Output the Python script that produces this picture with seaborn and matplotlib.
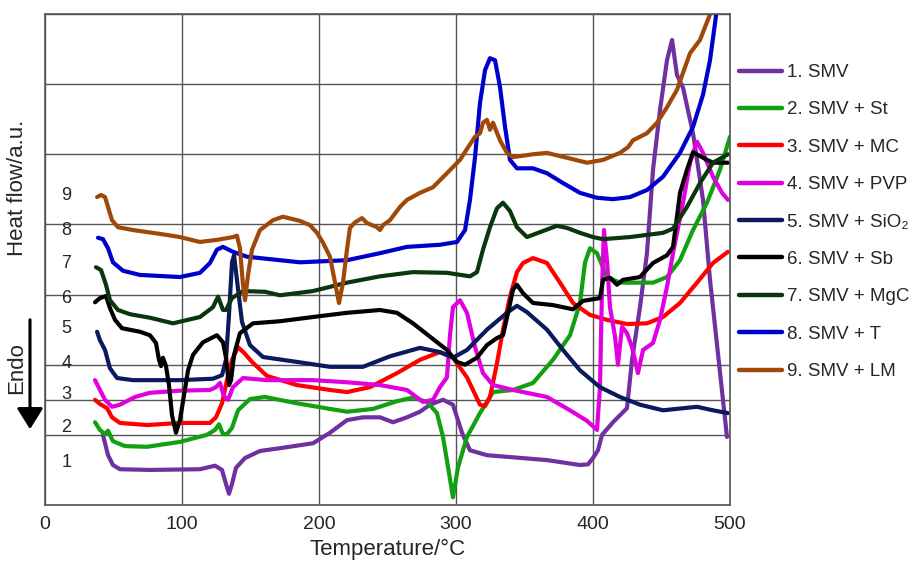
import numpy as np
import pandas as pd
import matplotlib
matplotlib.use("Agg")
import matplotlib.pyplot as plt
from matplotlib.lines import Line2D
import seaborn as sns

# ---- DSC curves: temperature (°C) and heat flow (a.u., one grid step = 1) ----
t_smv = [42.3, 46.0, 49.6, 54.7, 76.6, 113.1, 124.1, 129.2, 132.1, 134.3, 136.5, 139.4, 146.0,
         156.9, 171.5, 195.6, 208.0, 220.4, 232.1, 244.5, 254.0, 264.2, 273.7, 281.0, 290.5,
         297.8, 304.4, 310.2, 322.6, 341.6, 366.4, 390.5, 396.4, 400.0, 403.6, 406.6, 414.6,
         424.8, 428.5, 434.3, 439.4, 443.8, 448.9, 454.0, 457.7, 461.3, 465.7, 473.0, 480.3,
         485.4, 497.8]
h_smv = [1.00, 0.71, 0.57, 0.51, 0.50, 0.51, 0.56, 0.50, 0.30, 0.16, 0.30, 0.53, 0.67,
         0.77, 0.81, 0.88, 1.03, 1.21, 1.25, 1.25, 1.18, 1.25, 1.33, 1.43, 1.50,
         1.43, 1.03, 0.78, 0.71, 0.68, 0.64, 0.57, 0.58, 0.67, 0.78, 1.00, 1.18,
         1.38, 2.07, 2.82, 3.59, 4.78, 5.63, 6.34, 6.63, 6.13, 5.95, 5.30, 4.35,
         3.21, 0.97]

t_st = [36.5, 40.1, 43.8, 46.0, 49.6, 58.4, 74.5, 98.5, 118.2, 124.1, 127.0, 129.9, 132.8,
        136.5, 140.9, 149.6, 160.6, 183.9, 208.0, 220.4, 239.4, 256.9, 268.6, 278.8, 286.1,
        290.5, 294.2, 297.8, 301.5, 308.0, 317.5, 327.0, 341.6, 356.2, 370.8, 383.2, 390.5,
        394.2, 397.8, 402.9, 410.2, 419.7, 443.8, 454.0, 463.5, 473.0, 483.2, 492.7, 500.0]
h_st = [1.18, 1.07, 1.01, 1.06, 0.91, 0.84, 0.83, 0.90, 1.00, 1.07, 1.15, 1.01, 1.01,
        1.10, 1.35, 1.51, 1.54, 1.45, 1.37, 1.33, 1.37, 1.48, 1.53, 1.47, 1.31,
        0.97, 0.54, 0.11, 0.54, 0.97, 1.31, 1.61, 1.64, 1.74, 2.07, 2.42, 2.88,
        3.46, 3.66, 3.59, 3.25, 3.17, 3.17, 3.25, 3.49, 3.92, 4.31, 4.78, 5.25]

t_mc = [36.5, 40.1, 45.3, 48.9, 54.7, 74.5, 98.5, 120.4, 124.8, 129.2, 132.8, 136.5, 140.9,
        145.3, 151.1, 162.0, 183.9, 208.0, 220.4, 237.2, 256.9, 273.7, 288.3, 297.8, 308.0,
        317.5, 321.2, 324.8, 329.9, 334.3, 339.4, 344.5, 348.9, 356.2, 366.4, 375.9, 385.4,
        397.8, 410.2, 424.8, 439.4, 451.1, 463.5, 475.9, 487.6, 498.5]
h_mc = [1.50, 1.44, 1.38, 1.25, 1.17, 1.14, 1.17, 1.17, 1.25, 1.45, 1.78, 2.07, 2.25,
        2.17, 2.04, 1.84, 1.71, 1.64, 1.61, 1.68, 1.88, 2.07, 2.18, 2.10, 1.82,
        1.43, 1.41, 1.54, 2.02, 2.50, 2.97, 3.32, 3.45, 3.52, 3.45, 3.17, 2.88,
        2.71, 2.64, 2.58, 2.59, 2.68, 2.88, 3.17, 3.45, 3.61]

t_pvp = [36.5, 40.1, 43.8, 48.9, 54.7, 65.7, 76.6, 98.5, 120.4, 124.8, 127.7, 130.7, 133.6,
         137.2, 144.5, 162.0, 195.6, 220.4, 244.5, 264.2, 275.9, 283.2, 288.3, 293.4, 295.6,
         297.8, 302.9, 308.0, 313.9, 319.7, 327.0, 341.6, 366.4, 383.2, 395.6, 402.9, 405.1,
         406.6, 408.0, 410.2, 412.4, 416.1, 418.2, 421.2, 424.8, 428.5, 432.8, 436.5, 443.8,
         448.9, 454.0, 458.4, 465.7, 470.8, 475.9, 480.3, 487.6, 494.2, 498.5]
h_pvp = [1.78, 1.64, 1.50, 1.40, 1.43, 1.54, 1.60, 1.63, 1.64, 1.68, 1.74, 1.55, 1.50,
         1.68, 1.81, 1.78, 1.78, 1.75, 1.71, 1.64, 1.47, 1.50, 1.68, 1.82, 2.42,
         2.82, 2.92, 2.74, 2.25, 1.88, 1.71, 1.64, 1.54, 1.35, 1.20, 1.07, 1.68,
         3.11, 3.92, 3.49, 2.82, 2.40, 2.00, 2.54, 2.45, 2.25, 1.88, 2.21, 2.31,
         2.64, 3.11, 3.59, 4.31, 4.88, 5.18, 5.02, 4.68, 4.45, 4.35]

t_sio2 = [38.0, 40.1, 43.8, 47.4, 52.6, 64.2, 98.5, 122.6, 129.2, 132.1, 134.3, 136.5, 138.0,
          140.1, 143.8, 149.6, 159.1, 183.9, 208.0, 232.1, 251.8, 273.7, 288.3, 297.8, 308.0,
          322.6, 337.2, 344.5, 351.8, 366.4, 378.1, 390.5, 405.1, 419.7, 434.3, 451.1, 475.9,
          487.6, 498.5]
h_sio2 = [2.47, 2.35, 2.21, 1.95, 1.81, 1.78, 1.78, 1.80, 1.85, 2.07, 2.71, 3.46, 3.56,
          3.21, 2.61, 2.28, 2.11, 2.04, 1.97, 1.97, 2.12, 2.24, 2.18, 2.10, 2.21,
          2.50, 2.74, 2.84, 2.75, 2.50, 2.21, 1.92, 1.68, 1.54, 1.43, 1.35, 1.40,
          1.35, 1.31]

t_sb = [36.5, 40.1, 44.5, 47.4, 51.1, 56.2, 69.3, 76.6, 81.0, 83.2, 84.7, 86.1, 88.3, 90.5,
        92.7, 95.6, 98.5, 101.5, 104.4, 108.0, 115.3, 125.5, 129.9, 132.1, 134.3, 135.8,
        138.0, 142.3, 151.8, 171.5, 195.6, 220.4, 244.5, 256.9, 268.6, 281.0, 293.4, 300.7,
        306.6, 315.3, 322.6, 329.9, 334.3, 338.0, 341.6, 344.5, 348.9, 356.2, 370.8, 385.4,
        392.7, 405.1, 407.3, 412.4, 417.5, 421.9, 434.3, 443.8, 454.0, 458.4, 461.3, 463.5,
        468.6, 473.0, 483.2, 487.6, 498.5]
h_sb = [2.89, 2.95, 2.98, 2.81, 2.64, 2.52, 2.47, 2.42, 2.31, 2.07, 1.98, 2.10, 1.98, 1.71,
        1.28, 1.03, 1.21, 1.57, 1.92, 2.14, 2.32, 2.42, 2.32, 2.10, 1.71, 1.78,
        2.14, 2.45, 2.59, 2.62, 2.68, 2.74, 2.78, 2.74, 2.59, 2.40, 2.21, 2.04,
        2.00, 2.10, 2.28, 2.38, 2.42, 2.74, 3.07, 3.14, 3.02, 2.88, 2.85, 2.79,
        2.91, 2.95, 3.21, 3.24, 3.14, 3.21, 3.25, 3.45, 3.56, 3.68, 4.11, 4.45,
        4.78, 5.03, 4.92, 4.88, 4.88]

t_mgc = [37.2, 40.9, 44.5, 47.4, 53.3, 62.0, 76.6, 93.4, 113.1, 122.6, 126.3, 129.9, 132.1,
         136.5, 144.5, 160.6, 171.5, 195.6, 220.4, 244.5, 268.6, 293.4, 310.2, 315.3, 319.7,
         324.8, 329.9, 334.3, 339.4, 344.5, 351.8, 361.3, 373.7, 381.0, 390.5, 400.0, 407.3,
         427.0, 451.1, 458.4, 468.6, 478.1, 487.6, 498.5]
h_mgc = [3.39, 3.35, 3.14, 2.92, 2.78, 2.72, 2.67, 2.59, 2.68, 2.82, 2.97, 2.78, 2.78,
         2.95, 3.05, 3.04, 2.99, 3.05, 3.17, 3.26, 3.32, 3.31, 3.26, 3.32, 3.64,
         3.96, 4.23, 4.31, 4.19, 3.96, 3.82, 3.89, 3.98, 3.95, 3.88, 3.82, 3.79,
         3.82, 3.88, 3.94, 4.25, 4.59, 4.88, 5.00]

t_t = [38.7, 42.3, 46.0, 49.6, 56.9, 69.3, 98.5, 113.1, 120.4, 125.5, 129.9, 137.2, 147.4,
       156.9, 186.1, 220.4, 244.5, 264.2, 288.3, 300.7, 306.6, 310.2, 313.9, 317.5, 321.2,
       324.8, 328.5, 332.1, 335.8, 339.4, 344.5, 356.2, 366.4, 378.1, 390.5, 402.9, 414.6,
       427.0, 439.4, 451.1, 463.5, 473.0, 480.3, 485.4, 491.0]
h_t = [3.81, 3.79, 3.66, 3.46, 3.34, 3.28, 3.25, 3.31, 3.45, 3.64, 3.68, 3.61, 3.54,
       3.52, 3.46, 3.49, 3.59, 3.68, 3.71, 3.75, 3.92, 4.35, 4.96, 5.73, 6.20,
       6.37, 6.34, 5.96, 5.39, 4.92, 4.80, 4.80, 4.73, 4.59, 4.45, 4.38, 4.36,
       4.39, 4.49, 4.68, 5.02, 5.39, 5.85, 6.34, 7.15]

t_lm = [38.0, 40.9, 43.8, 46.0, 48.9, 53.3, 64.2, 89.1, 98.5, 113.1, 125.5, 137.2, 140.1,
        142.3, 144.5, 146.0, 148.2, 151.1, 156.9, 166.4, 173.7, 186.1, 193.4, 198.5, 202.9,
        208.0, 211.7, 214.6, 217.5, 220.4, 222.6, 226.3, 231.4, 235.0, 242.3, 244.5, 246.7,
        251.8, 259.1, 264.2, 273.7, 283.2, 293.4, 302.9, 308.8, 313.9, 317.5, 319.7, 322.6,
        324.8, 327.0, 332.1, 337.2, 341.6, 356.2, 366.4, 381.0, 395.6, 407.3, 419.7, 425.5,
        429.2, 439.4, 446.7, 454.0, 461.3, 470.8, 478.1, 488.5]
h_lm = [4.39, 4.42, 4.39, 4.25, 4.06, 3.96, 3.92, 3.85, 3.82, 3.75, 3.78, 3.82, 3.84,
        3.66, 3.14, 2.92, 3.28, 3.64, 3.92, 4.06, 4.11, 4.05, 3.99, 3.88, 3.74,
        3.54, 3.17, 2.88, 3.17, 3.64, 3.95, 4.03, 4.09, 4.02, 3.96, 3.92, 3.99,
        4.06, 4.25, 4.35, 4.45, 4.53, 4.73, 4.92, 5.10, 5.25, 5.30, 5.45, 5.49,
        5.35, 5.45, 5.20, 5.02, 4.96, 5.00, 5.02, 4.95, 4.88, 4.92, 5.02, 5.10,
        5.20, 5.30, 5.45, 5.67, 5.92, 6.44, 6.63, 7.15]

labels = ["1. SMV", "2. SMV + St", "3. SMV + MC", "4. SMV + PVP", "5. SMV + SiO\u2082",
          "6. SMV + Sb", "7. SMV + MgC", "8. SMV + T", "9. SMV + LM"]
colors = ["#7030a0", "#10a010", "#ff0000", "#e000e0", "#0a1a5c",
          "#000000", "#0b360b", "#0000cc", "#a0480a"]
curve_numbers = ["1", "2", "3", "4", "5", "6", "7", "8", "9"]
number_y = [0.61, 1.10, 1.58, 2.02, 2.51, 2.95, 3.44, 3.91, 4.41]
x_ticks = [0, 100, 200, 300, 400, 500]

series = [(t_smv, h_smv), (t_st, h_st), (t_mc, h_mc), (t_pvp, h_pvp), (t_sio2, h_sio2),
          (t_sb, h_sb), (t_mgc, h_mgc), (t_t, h_t), (t_lm, h_lm)]

frames = []
for lab, (t, h) in zip(labels, series):
    frames.append(pd.DataFrame({"Temperature": t, "Heat flow": h, "Sample": lab}))
df = pd.concat(frames, ignore_index=True)

sns.set_style("white")
plt.rcParams["font.family"] = ["Liberation Sans", "DejaVu Sans"]

fig = plt.figure(figsize=(9.15, 5.64), dpi=100)
ax = fig.add_axes([45 / 915, 59 / 564, 685 / 915, 491 / 564])

sns.lineplot(data=df, x="Temperature", y="Heat flow", hue="Sample",
             hue_order=labels, palette=colors, sort=False, estimator=None,
             linewidth=3.0, legend=False, ax=ax)
for ln in ax.lines:
    ln.set_solid_joinstyle("round")
    ln.set_solid_capstyle("round")

grid_c = "#555555"
ax.set_xlim(0, 500)
ax.set_ylim(0, 7)
ax.set_xticks(x_ticks)
ax.set_xticklabels([str(v) for v in x_ticks], fontsize=14)
ax.set_yticks(range(0, 8))
ax.set_yticklabels([])
ax.tick_params(axis="x", length=0, pad=8)
ax.tick_params(axis="y", length=6, width=1.0, color=grid_c, direction="out")
ax.grid(True, color=grid_c, linewidth=1.0)
ax.axhline(1.5, color=grid_c, linewidth=1.0, zorder=0.5)
ax.set_axisbelow(True)
for sp in ax.spines.values():
    sp.set_color(grid_c)
    sp.set_linewidth(1.2)

ax.set_xlabel("Temperature/\u00b0C", fontsize=16, labelpad=4)
ax.set_ylabel("")

# curve numbers inside the plot
for num, yv in zip(curve_numbers, number_y):
    ax.text(15.5, yv, num, fontsize=13, ha="center", va="center")

fig.text(18 / 915, 1 - 188 / 564, "Heat flow/a.u.", rotation=90, fontsize=16,
         ha="center", va="center")
fig.text(17 / 915, 1 - 368 / 564, "Endo", rotation=90, fontsize=16,
         ha="center", va="center")
fig.add_artist(matplotlib.patches.FancyArrowPatch(
    (30 / 915, 1 - 317 / 564), (30 / 915, 1 - 432 / 564),
    transform=fig.transFigure, arrowstyle="-|>,head_length=8,head_width=5",
    mutation_scale=1.6, color="black", linewidth=2.2))

handles = [Line2D([], [], color=c, linewidth=3.2, solid_capstyle="round") for c in colors]
fig.legend(handles, labels, loc="upper left", bbox_to_anchor=(739 / 915, 1 - 64 / 564),
           frameon=False, fontsize=13.5, handlelength=2.3, handletextpad=0.25,
           labelspacing=1.08, borderpad=0, borderaxespad=0)

fig.savefig("out.png", dpi=100)
